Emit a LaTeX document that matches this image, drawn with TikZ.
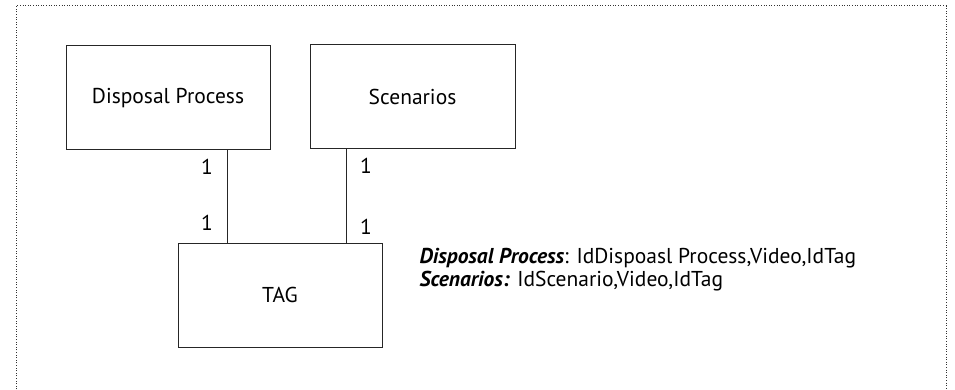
\documentclass[tikz,border=0pt]{standalone}
\usepackage{fontspec}
\setmainfont{PT Sans}
\begin{document}
\begin{tikzpicture}[x=1pt,y=-1pt,
  entity/.style={draw=black!85,line width=1pt,inner sep=0pt,font=\fontsize{21.5}{24}\selectfont},
  card/.style={font=\fontsize{21.5}{24}\selectfont,inner sep=0pt},
  link/.style={draw=black!85,line width=1pt}]
\useasboundingbox (0,0) rectangle (955,390);
\draw[black!80,line width=1pt,dash pattern=on 1pt off 1.6pt] (16,392) -- (16,6) -- (946,6) -- (946,392);
\node[entity,minimum width=204pt,minimum height=104pt] (dp) at (168,98) {Disposal Process};
\node[entity,minimum width=205pt,minimum height=104pt] (sc) at (412.5,97) {Scenarios};
\node[entity,minimum width=204pt,minimum height=104pt] (tag) at (280,295) {TAG};
\draw[link] (dp.south -| 227,0) -- (tag.north -| 227,0);
\draw[link] (sc.south -| 346,0) -- (tag.north -| 346,0);
\node[card] (c1) at (207,167) {1};
\node[card] (c2) at (207,223) {1};
\node[card] (c3) at (366,166) {1};
\node[card] (c4) at (366,227) {1};
\node[anchor=west,align=left,font=\fontsize{21.5}{23}\selectfont] (attr) at (416,270)
  {{\bfseries\itshape Disposal Process}: IdDispoasl Process,Video,IdTag\\
   {\bfseries\itshape Scenarios:} IdScenario,Video,IdTag};
\end{tikzpicture}
\end{document}
